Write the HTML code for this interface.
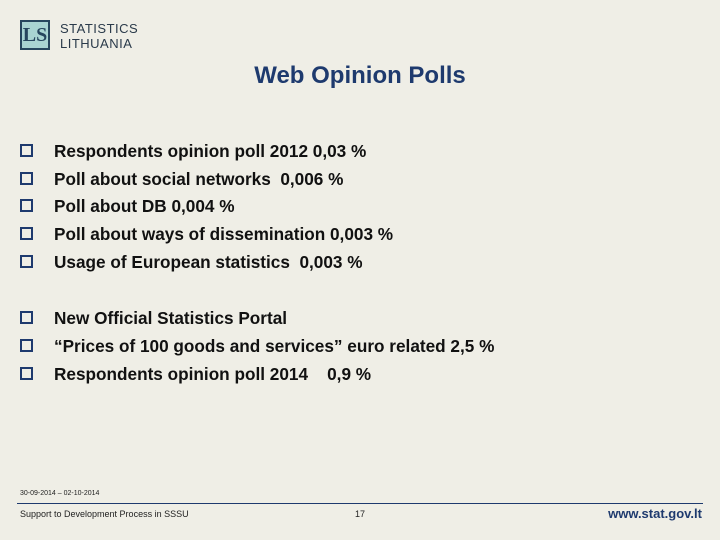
<!DOCTYPE html>
<html><head><meta charset="utf-8"><style>
body{margin:0;width:720px;height:540px;overflow:hidden;background:#efeee6;font-family:"Liberation Sans",sans-serif;position:relative;color:#111}
.abs{position:absolute}
.logo{left:20px;top:20px;width:30px;height:30px;background:#a9d4d2;border:2px solid #27465e;box-sizing:border-box;font:bold 20px "Liberation Serif",serif;color:#27465e;text-align:center;line-height:26px}
.lt{left:60px;font-size:13px;color:#2a3a4a;letter-spacing:0.5px}
.title{left:0;width:720px;top:62px;text-align:center;font-size:24px;font-weight:bold;color:#1e3a6e}
.item{left:20px;font-size:17.2px;font-weight:bold;color:#111;white-space:pre}
.box{display:inline-block;width:9px;height:9px;border:2px solid #1e3a6e;margin-right:21px;vertical-align:0px}
.foot{font-size:9px;color:#222}
</style></head><body>
<div class="abs logo">LS</div>
<div class="abs lt" style="top:21px">STATISTICS</div>
<div class="abs lt" style="top:36px">LITHUANIA</div>
<div class="abs title">Web Opinion Polls</div>
<div class="abs item" style="top:141px"><span class="box"></span>Respondents opinion poll 2012 0,03 %</div>
<div class="abs item" style="top:169px"><span class="box"></span>Poll about social networks  0,006 %</div>
<div class="abs item" style="top:196px"><span class="box"></span>Poll about DB 0,004 %</div>
<div class="abs item" style="top:224px"><span class="box"></span>Poll about ways of dissemination 0,003 %</div>
<div class="abs item" style="top:252px"><span class="box"></span>Usage of European statistics  0,003 %</div>
<div class="abs item" style="top:308px"><span class="box"></span>New Official Statistics Portal</div>
<div class="abs item" style="top:336px"><span class="box"></span>“Prices of 100 goods and services” euro related 2,5 %</div>
<div class="abs item" style="top:364px"><span class="box"></span>Respondents opinion poll 2014    0,9 %</div>
<div class="abs foot" style="left:20px;top:490px;font-size:7px">30-09-2014 – 02-10-2014</div>
<div class="abs" style="left:17px;top:503px;width:686px;height:1px;background:#1e3a6e"></div>
<div class="abs foot" style="left:20px;top:509px">Support to Development Process in SSSU</div>
<div class="abs foot" style="left:355px;top:509px">17</div>
<div class="abs" style="right:18px;top:506px;font-size:13px;font-weight:bold;color:#1e3a6e">www.stat.gov.lt</div>
</body></html>
